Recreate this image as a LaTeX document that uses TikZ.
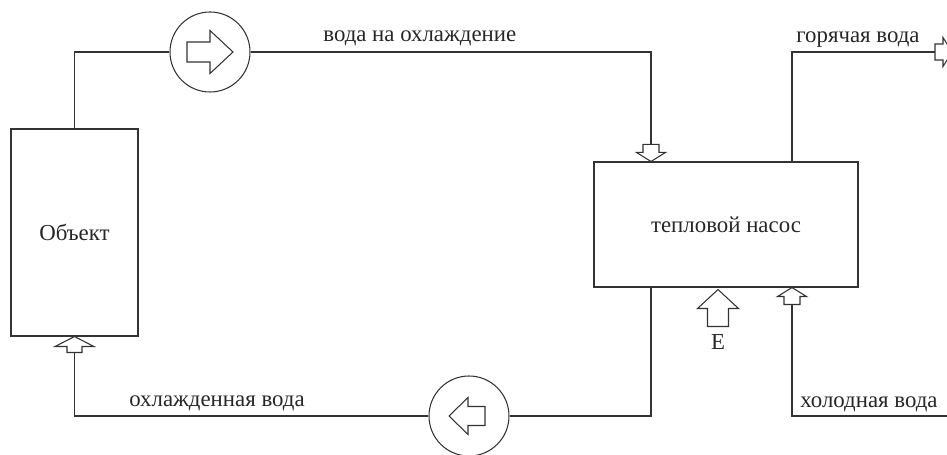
\documentclass[tikz,border=0pt]{standalone}
\usepackage{fontspec}
\setmainfont{Liberation Serif}
\usetikzlibrary{positioning}

\begin{document}
\begin{tikzpicture}[
	every node/.style={font=\fontsize{13}{15}\selectfont, text=black!85},
	pipe/.style={draw=black!80, line width=0.6pt},
	box/.style={pipe, rectangle, inner sep=0pt},
	pump/.style={pipe, circle, minimum size=1.6cm, inner sep=0pt},
	lbl/.style={inner sep=0pt, anchor=base west},
	pics/fatarrow/.style args={#1/#2/#3/#4}{code={
		\draw[pipe, fill=white] (0,0) -- (-#3/2,-#2) -- (-#4/2,-#2) -- (-#4/2,-#1)
			-- (#4/2,-#1) -- (#4/2,-#2) -- (#3/2,-#2) -- cycle;
	}}
]
				\useasboundingbox (0,0) rectangle (18.94,9.1);
				
				\node[box, minimum width=2.54cm, minimum height=4.14cm] (Obj) at (1.49,4.45) {Объект};
				\node[box, minimum width=5.28cm, minimum height=2.5cm] (HeatPump) at (14.52,4.61) {тепловой насос};
				\node[pump] (PumpTop) at (4.2,8.06) {};
				\node[pump] (PumpBot) at (9.38,0.78) {};
				
				\coordinate (FeedIn) at ([xshift=-1.5cm]HeatPump.north);
				\coordinate (HotOut) at ([xshift=1.32cm]HeatPump.north);
				\coordinate (ReturnOut) at ([xshift=-1.5cm]HeatPump.south);
				\coordinate (ColdIn) at ([xshift=1.32cm]HeatPump.south);
				\coordinate (HotTip) at (19.04,8.06);
				\coordinate (ColdEnd) at (18.94,0.78);
				
				\draw[pipe] (Obj.north) |- (PumpTop.west);
				\draw[pipe] (PumpTop.east) -| (FeedIn);
				\draw[pipe] (HotOut) |- (HotTip);
				\draw[pipe] (ReturnOut) |- (PumpBot.east);
				\draw[pipe] (PumpBot.west) -| (Obj.south);
				\draw[pipe] (ColdEnd) -| (ColdIn);
				
				\pic[rotate=-90] at ([xshift=0.46cm]PumpTop.center) {fatarrow=0.92/0.46/0.86/0.4};
				\pic[rotate=90] at ([xshift=-0.4cm]PumpBot.center) {fatarrow=0.72/0.38/0.74/0.38};
				\pic[rotate=180] at (FeedIn) {fatarrow=0.34/0.18/0.58/0.32};
				\pic[rotate=-90] at (HotTip) {fatarrow=0.34/0.18/0.58/0.32};
				\pic at (ColdIn) {fatarrow=0.34/0.18/0.58/0.32};
				\pic at (Obj.south) {fatarrow=0.32/0.2/0.78/0.3};
				\pic at ([xshift=-0.16cm,yshift=-0.04cm]HeatPump.south) {fatarrow=0.74/0.38/0.82/0.42};
				
				\node (ELabel) at (14.36,2.26) {E};
				\node[lbl] (FeedLabel) at (6.46,8.26) {вода на охлаждение};
				\node[lbl] (HotLabel) at (15.92,8.24) {горячая вода};
				\node[lbl] (ReturnLabel) at (2.58,0.96) {охлажденная вода};
				\node[lbl] (ColdLabel) at (16.0,0.94) {холодная вода};
			\end{tikzpicture}
\end{document}
